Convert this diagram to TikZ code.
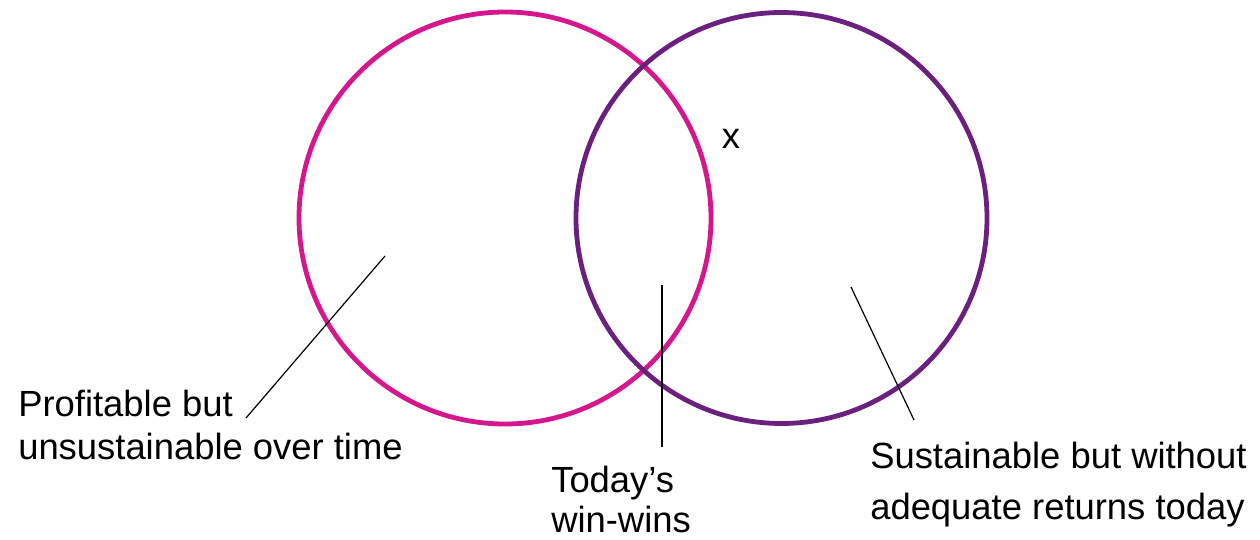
\documentclass[tikz,border=0pt]{standalone}
\usepackage{fontspec}
\setmainfont{Liberation Sans}
\definecolor{pinkc}{HTML}{D5168C}
\definecolor{purplec}{HTML}{6B1F7F}
\begin{document}
\begin{tikzpicture}[x=0.75pt,y=-0.75pt,
  ring/.style={line width=3.6pt},
  pointer/.style={line width=0.9pt,black},
  lbl/.style={anchor=base west,inner sep=0pt,font=\fontsize{27.3}{32}\selectfont}]
\useasboundingbox (0,0) rectangle (1260,539);
\draw[ring,pinkc] (505,218) circle[radius=206];
\draw[ring,purplec] (781.5,218) circle[radius=205.5];
\node[lbl] (p1) at (18,416) {Profitable but};
\node[lbl] (p2) at (18,459) {unsustainable over time};
\node[lbl] (t1) at (551,492) {Today’s};
\node[lbl] (t2) at (551,532) {win-wins};
\node[lbl] (s1) at (870,468) {Sustainable but without};
\node[lbl] (s2) at (870,519) {adequate returns today};
\node[lbl,anchor=center] (x) at (731,139) {x};
\coordinate (a1) at (385,256);
\coordinate (a2) at (246,418);
\coordinate (b1) at (662,285);
\coordinate (b2) at (662,447);
\coordinate (c1) at (851,287);
\coordinate (c2) at (914,420);
\draw[pointer] (a1) -- (a2);
\draw[pointer] (b1) -- (b2);
\draw[pointer] (c1) -- (c2);
\end{tikzpicture}
\end{document}
